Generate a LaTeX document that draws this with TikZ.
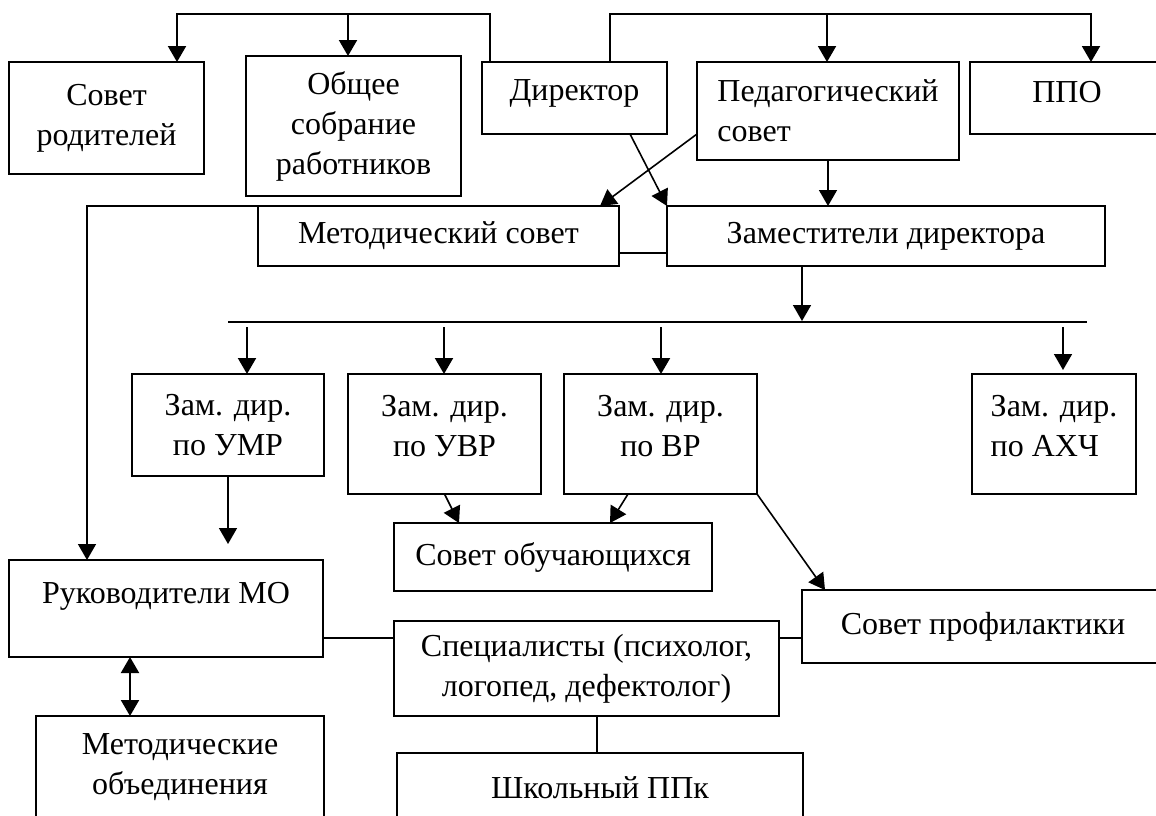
\documentclass[tikz,border=0pt]{standalone}
\usepackage{fontspec}
\setmainfont{Liberation Serif}
\usetikzlibrary{arrows.meta}
\begin{document}
\begin{tikzpicture}[x=0.75pt,y=-0.75pt,
  font=\fontsize{24}{30}\selectfont,
  bx/.style n args={4}{draw, rectangle, line width=1.2pt, inner sep=0pt, outer sep=0pt,
    at={({(#1+#3)/2},{(#2+#4)/2})},
    minimum width={(#3-#1)*0.75pt}, minimum height={(#4-#2)*0.75pt}, align=center},
  thickbox/.style={line width=2.2pt},
  ln/.style={line width=1.1pt},
  tip/.style={},
  arr/.style={line width=1.5pt, -{Triangle[width=13.5pt,length=12pt]}},
  arrthin/.style={line width=1.2pt, -{Triangle[width=13.5pt,length=12pt]}},
  darr/.style={line width=1.5pt, {Triangle[width=13.5pt,length=12pt]}-{Triangle[width=13.5pt,length=12pt]}},
]
\useasboundingbox (0,0) rectangle (1156,815);
\fill[white] (0,0) rectangle (1156,815);
\clip (0,0) rectangle (1156,815);

% boxes
\node[bx={9}{62}{204}{174}] (sovet) {Совет\\родителей};
\node[bx={246}{56}{461}{196}, thickbox] (obsh) {Общее\\собрание\\работников};
\node[bx={482}{62}{667}{134}] (dir) {Директор\\[-17.5pt]\mbox{}};
\node[bx={697}{62}{959}{160}, align=left] (ped) {Педагогический\\совет};
\node[bx={970}{62}{1164}{134}] (ppo) {ППО\\[-21pt]\mbox{}};
\node[bx={258}{206}{619}{266}] (metod) {Методический совет};
\node[bx={667}{206}{1105}{266}] (zam) {Заместители директора};
\node[bx={132}{374}{324}{476}] (umr) {Зам. дир.\\по УМР};
\node[bx={348}{374}{541}{494}] (uvr) {Зам. дир.\\по УВР\\[-18pt]\mbox{}};
\node[bx={564}{374}{757}{494}] (vr) {Зам. дир.\\по ВР\\[-18pt]\mbox{}};
\node[bx={972}{374}{1136}{494}, align=left] (ahch) {Зам. дир.\\по АХЧ\\[-18pt]\mbox{}};
\node[bx={394}{523}{712}{591}] (sobuch) {Совет обучающихся};
\node[bx={9}{560}{323}{657}] (ruk) {Руководители МО\\[-7pt]\mbox{}};
\node[bx={802}{590}{1164}{663}] (sprof) {Совет профилактики};
\node[bx={394}{621}{779}{716}] (spec) {Специалисты (психолог,\\логопед, дефектолог)};
\node[bx={36}{716}{324}{819}] (mob) {Методические\\объединения};
\node[bx={397}{753}{803}{823}, thickbox] (ppk) {Школьный ППк};

% helper coordinates
\coordinate (t1) at (177,14);
\coordinate (t2) at (348,14);
\coordinate (t3) at (827,14);
\coordinate (t4) at (1091,14);
\coordinate (b0) at (802,321);
\coordinate (bl) at (228,322);
\coordinate (br) at (1087,322);
\coordinate (u1) at (247,327);
\coordinate (u2) at (444,327);
\coordinate (u3) at (661,327);
\coordinate (u4) at (1063,327);
\coordinate (u4e) at (1063,370);
\coordinate (free) at (228,544);
\coordinate (cy) at (0,638);
\coordinate (cx) at (597,0);
\coordinate (cx2) at (130,0);

% top connectors
\draw[arr] ([xshift=6pt]dir.north west) |- (t1) -- (t1 |- sovet.north);
\draw[arr] (t2) -- (t2 |- obsh.north);
\draw[arr] ([xshift=96pt]dir.north west) |- (t4) -- (t4 |- ppo.north);
\draw[arr] (t3) -- (t3 |- ped.north);

% middle connectors
\draw[arrthin] ([xshift=111pt]dir.south west) -- (zam.north west);
\draw[arrthin] ([yshift=-54pt]ped.north west) -- ([xshift=-14.25pt]metod.north east);
\draw[arrthin] (ped.south) -- (ped.south |- zam.north);
\draw[ln] ([yshift=-12.75pt]metod.east) -- ([yshift=-12.75pt]zam.west);
\draw[arrthin] (metod.north west) -| ([xshift=58.5pt]ruk.north west);
\draw[arrthin] ([xshift=-63pt]zam.south) -- (b0);
\draw[ln] (bl) -- (br);
\draw[arr] (u1) -- (u1 |- umr.north);
\draw[arr] (u2) -- (u2 |- uvr.north);
\draw[arr] (u3) -- (u3 |- vr.north);
\draw[arrthin] (u4) -- (u4e);
\draw[arrthin] (umr.south) -- (free);
\draw[arrthin] (uvr.south) -- ([xshift=48.75pt]sobuch.north west);
\draw[arrthin] ([xshift=48pt]vr.south west) -- ([xshift=162pt]sobuch.north west);
\draw[arrthin] (vr.south east) -- ([xshift=17.25pt]sprof.north west);

% bottom connectors
\draw[ln] (ruk.east |- cy) -- (spec.west |- cy);
\draw[ln] (spec.east |- cy) -- (sprof.west |- cy);
\draw[ln] (cx |- spec.south) -- (cx |- ppk.north);
\draw[darr] (cx2 |- ruk.south) -- (cx2 |- mob.north);
\end{tikzpicture}
\end{document}
